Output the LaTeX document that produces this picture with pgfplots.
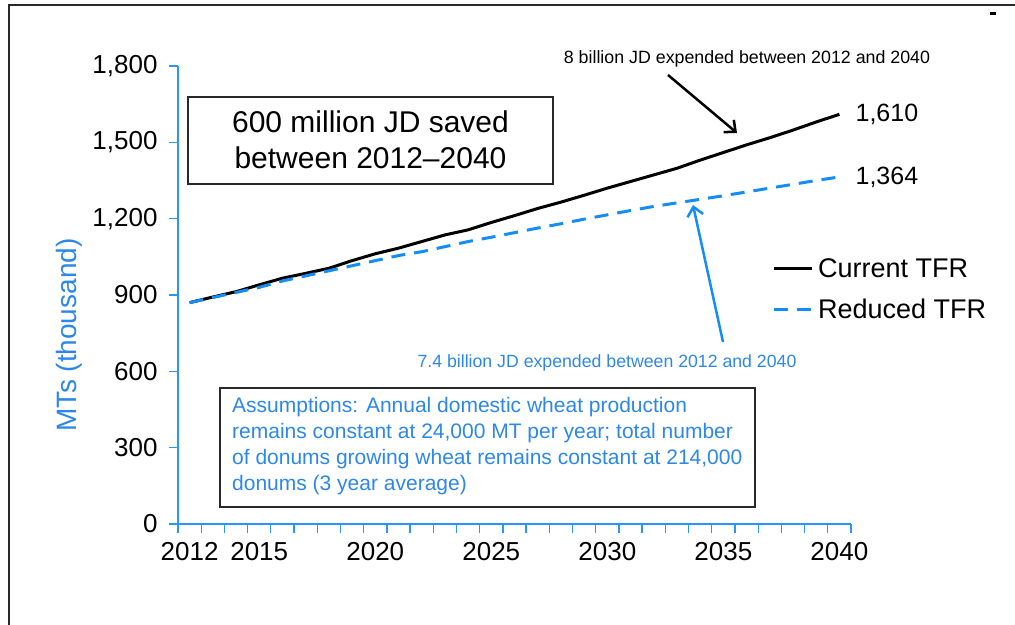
\documentclass[border=0pt]{standalone}
\usepackage{fontspec}
\setmainfont{Liberation Sans}
\usepackage{pgfplots}
\pgfplotsset{compat=1.18}
\usetikzlibrary{arrows.meta}
\definecolor{axblue}{RGB}{40,150,255}
\definecolor{lineblue}{RGB}{20,140,250}
\definecolor{txtblue}{RGB}{45,135,235}
\definecolor{framegray}{RGB}{40,40,40}
\newcommand{\tickfont}{\fontsize{26}{30}\selectfont}
\pgfplotstableread{
year current reduced
2012 870 870
2013 892 890
2014 913 910
2015 940 930
2016 966 955
2017 985 975
2018 1005 995
2019 1035 1015
2020 1062 1035
2021 1084 1055
2022 1110 1070
2023 1136 1090
2024 1156 1110
2025 1185 1127
2026 1212 1145
2027 1240 1163
2028 1265 1180
2029 1292 1198
2030 1320 1215
2031 1346 1232
2032 1372 1248
2033 1398 1262
2034 1430 1276
2035 1460 1290
2036 1490 1305
2037 1518 1320
2038 1548 1335
2039 1580 1350
2040 1610 1364
}\tfrdata
\begin{document}
\begin{tikzpicture}[x=1pt,y=1pt]
\path[use as bounding box] (0,0) rectangle (1015,624);
\draw[line width=2pt, framegray] (9,-2) -- (9,619) -- (1017,619);
\fill[black] (990,609) rectangle (996,612);
\begin{axis}[
  at={(178pt,100pt)}, anchor=south west,
  scale only axis, width=673pt, height=458pt,
  xmin=2011.5, xmax=2040.5, ymin=0, ymax=1800,
  axis lines=left,
  axis line style={draw=axblue, line width=1.5pt, -},
  tick align=outside,
  xtick={2012,2015,2020,2025,2030,2035,2040},
  xticklabels={2012,2015,2020,2025,2030,2035,2040},
  major x tick style={draw=none},
  minor xtick={2011.5,2012.5,...,2040.5},
  minor x tick style={draw=axblue, line width=1.3pt},
  minor tick length=9pt,
  ytick={0,300,600,900,1200,1500,1800},
  y tick style={draw=axblue, line width=1.3pt},
  major tick length=9pt,
  yticklabel style={font=\tickfont, black, xshift=-8pt, /pgf/number format/.cd, 1000 sep={,}, assume math mode=true},
  xticklabel style={font=\tickfont, black, yshift=-6pt},
  ylabel={MTs (thousand)},
  every axis y label/.style={at={(axis description cs:-0.162,0.413)}, rotate=90, anchor=center, font=\fontsize{28}{32}\selectfont, text=txtblue},
  legend style={at={(axis description cs:0.8826,0.512)}, anchor=west, draw=none, fill=none, inner sep=0pt, row sep=18pt, font=\fontsize{27}{31}\selectfont, nodes={inner sep=1pt}, column sep=4pt},
  legend cell align=left,
  legend image code/.code={\draw[#1] (0pt,0pt) -- (38pt,0pt);},
  clip=false,
]
\addplot[black, line width=3pt] table[x=year, y=current] {\tfrdata};
\addlegendentry{Current TFR}
\addplot[lineblue, line width=3pt, dash pattern=on 14pt off 9pt] table[x=year, y=reduced] {\tfrdata};
\addlegendentry{Reduced TFR}
\node[anchor=west, font=\fontsize{25}{29}\selectfont, inner sep=0pt, xshift=16pt] at (axis cs:2040,1610) {1,610};
\node[anchor=west, font=\fontsize{25}{29}\selectfont, inner sep=0pt, xshift=16pt] at (axis cs:2040,1364) {1,364};
\end{axis}
% headline box
\draw[line width=1.5pt, framegray] (188,440) rectangle (553,527);
\node[align=center, font=\fontsize{30}{36}\selectfont] at (370.5,484) {600 million JD saved\\between 2012--2040};
% assumptions box
\draw[line width=1.5pt, framegray] (220,117) rectangle (755,236);
\begin{scope}[every node/.style={anchor=base west, inner sep=0pt, text=txtblue, font=\fontsize{21}{26}\selectfont}]
\node at (232,211) {Assumptions: Annual domestic wheat production};
\node at (232,185) {remains constant at 24,000 MT per year; total number};
\node at (232,159) {of donums growing wheat remains constant at 214,000};
\node at (232,133) {donums (3 year average)};
\end{scope}
% annotations
\node[font=\fontsize{17.8}{20}\selectfont, text=black] at (747,565) {8 billion JD expended between 2012 and 2040};
\draw[line width=2.5pt, black, -{Straight Barb[length=9pt,width=16pt]}] (668,549) -- (737,491);
\node[font=\fontsize{17.7}{20}\selectfont, text=txtblue] at (607,261) {7.4 billion JD expended between 2012 and 2040};
\draw[line width=2.5pt, lineblue, -{Straight Barb[length=9pt,width=16pt]}] (723,282) -- (693,419);
\end{tikzpicture}
\end{document}
